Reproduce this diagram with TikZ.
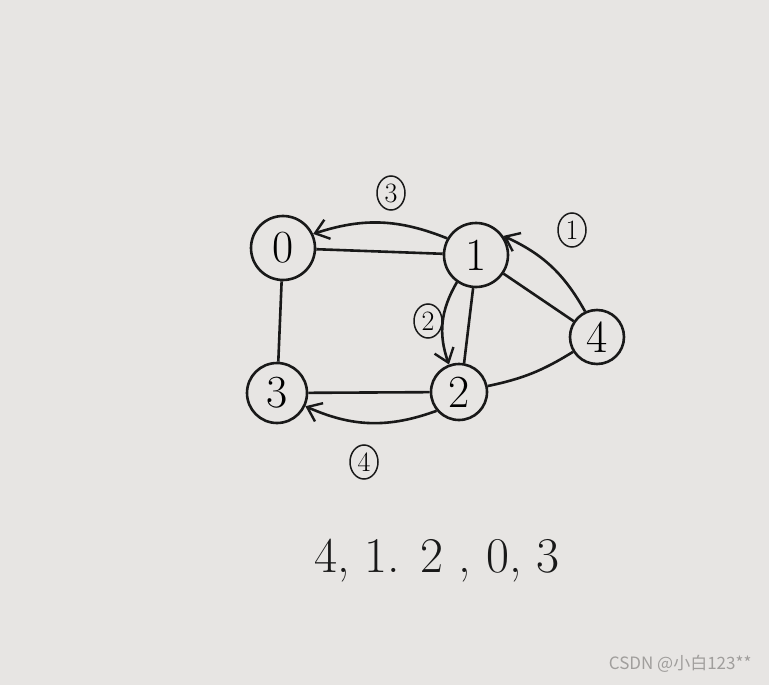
\documentclass[tikz,border=0pt]{standalone}
\usepackage{fontspec}
\usepackage{tikz}
\usetikzlibrary{arrows.meta, shapes.geometric}
\newfontfamily\cjk{Noto Sans CJK SC}
\definecolor{paper}{RGB}{231,229,227}
\definecolor{ink}{RGB}{25,25,25}
\definecolor{wmgray}{RGB}{160,158,156}
\tikzset{
    vertex/.style={circle, draw=ink, line width=2.6pt, minimum size=64pt, inner sep=0pt,
        font=\fontsize{46}{46}\selectfont},
    order/.style={ellipse, draw=ink, line width=1.5pt, minimum width=28pt, minimum height=34pt,
        inner sep=0pt, font=\fontsize{28}{28}\selectfont},
    edge/.style={ink, line width=2.6pt},
    visit/.style={ink, line width=2.6pt, -{Straight Barb[length=13pt, width=20pt, line width=2.4pt]}}
}
\begin{document}
\begin{tikzpicture}[x=1pt, y=-1pt]
            \fill [paper] (0, 0) rectangle (769, 685);
            \useasboundingbox (0, 0) rectangle (769, 685);

            \node [vertex] (n0) at (283, 248) {0};
            \node [vertex] (n1) at (476, 255) {1};
            \node [vertex, minimum size=54pt] (n4) at (597, 337) {4};
            \node [vertex, minimum size=60pt] (n3) at (277, 393) {3};
            \node [vertex, minimum size=56pt] (n2) at (459, 392) {2};

            % the graph
            \draw [edge] (n0) -- (n1);
            \draw [edge] (n0) -- (n3);
            \draw [edge] (n1.265) -- (n2.80);
            \draw [edge] (n1) -- (n4);
            \draw [edge] (n2) to [bend right=10] (n4);
            \draw [edge] (n3) -- (n2);

            % order of the walk
            \draw [visit] (n4.115) to [bend right=18] (n1.35);
            \draw [visit] (n1.235) to [bend right=25] (n2.110);
            \draw [visit] (n1.150) to [bend right=20] (n0.25);
            \draw [visit] (n2.220) to [bend left=22] (n3.-25);

            \node [order] (o1) at (572, 230) {1};
            \node [order] (o2) at (428, 321) {2};
            \node [order] (o3) at (391, 193) {3};
            \node [order] (o4) at (364, 462) {4};

            \node [ink, font=\fontsize{50}{50}\selectfont] (res) at (437, 561) {4, 1. 2 , 0, 3};
            \node [text=wmgray, font=\cjk\fontsize{17}{17}\selectfont, anchor=east] (wm) at (755, 664) {CSDN @小白123**};
        \end{tikzpicture}
\end{document}
